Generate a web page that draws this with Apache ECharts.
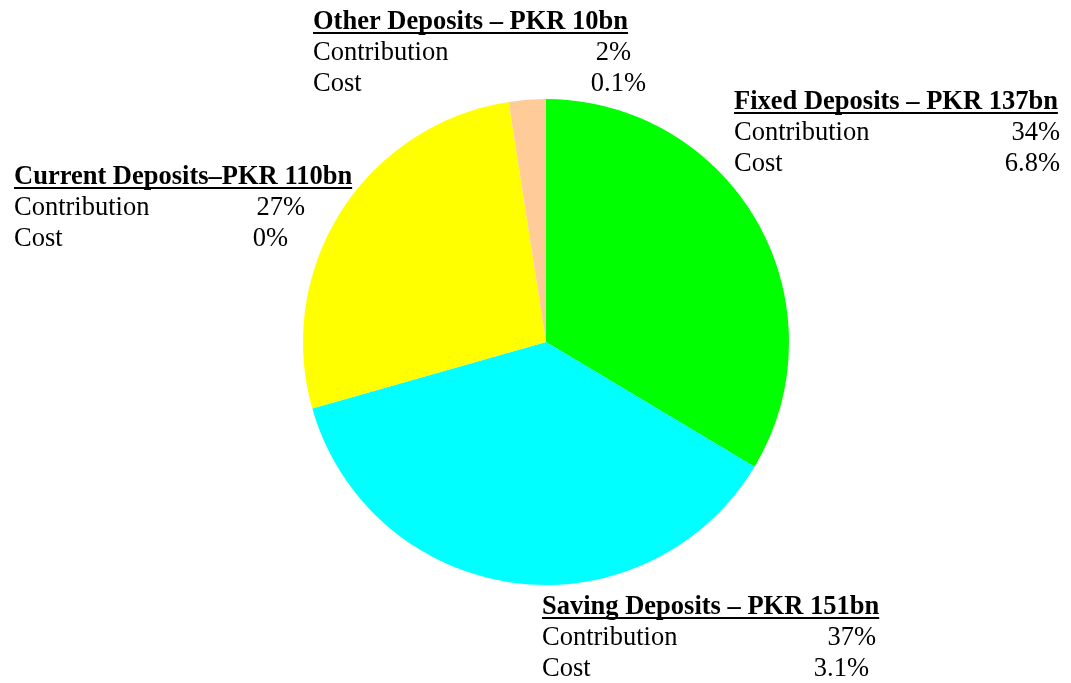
<!DOCTYPE html>
<html>
<head>
<meta charset="utf-8">
<script src="https://cdn.jsdelivr.net/npm/echarts@6/dist/echarts.min.js"></script>
<style>
  html, body { margin: 0; padding: 0; background: #fff; }
  #chart { width: 1071px; height: 683px; }
</style>
</head>
<body>
<div id="chart"></div>
<script>
// deposit mix data
var categories = ['Fixed Deposits', 'Saving Deposits', 'Current Deposits', 'Other Deposits'];
var amounts = [137, 151, 110, 10];             // PKR bn
var separators = [' – ', ' – ', '–', ' – '];
var contribution = ['34%', '37%', '27%', '2%'];
var cost = ['6.8%', '3.1%', '0%', '0.1%'];
var colors = ['#00FF00', '#00FFFF', '#FFFF00', '#FFCC99'];

// where each label block sits: left x, title baseline, right edge of the two value cells
var labelPos = [
    { x: 734, base: 109, right: [1060, 1060] },
    { x: 542, base: 614, right: [876, 869] },
    { x: 14,  base: 184, right: [305, 288] },
    { x: 313, base: 29,  right: [631, 646] }
];

var FONT = '"Liberation Serif", "Times New Roman", serif';
var SIZE = 26.5;
var ROW = 31;

var ctx = document.createElement('canvas').getContext('2d');
function textWidth(str, bold) {
    ctx.font = (bold ? 'bold ' : '') + SIZE + 'px ' + FONT;
    return ctx.measureText(str).width;
}

var chart = echarts.init(document.getElementById('chart'));

var pieData = categories.map(function (c, i) {
    return { name: c, value: amounts[i], itemStyle: { color: colors[i] } };
});

var graphics = [];
categories.forEach(function (c, i) {
    var p = labelPos[i];
    var title = c + separators[i] + 'PKR ' + amounts[i] + 'bn';
    var mid = -7; // baseline -> middle offset
    graphics.push({
        type: 'text', x: p.x, y: p.base + mid,
        style: { text: title, font: 'bold ' + SIZE + 'px ' + FONT, fill: '#000', verticalAlign: 'middle', align: 'left' }
    });
    graphics.push({
        type: 'rect',
        shape: { x: p.x, y: p.base + 3, width: textWidth(title, true), height: 2 },
        style: { fill: '#000' }
    });
    var rows = [['Contribution', contribution[i]], ['Cost', cost[i]]];
    rows.forEach(function (r, k) {
        var yy = p.base + ROW * (k + 1) + mid;
        graphics.push({
            type: 'text', x: p.x, y: yy,
            style: { text: r[0], font: SIZE + 'px ' + FONT, fill: '#000', verticalAlign: 'middle', align: 'left' }
        });
        graphics.push({
            type: 'text', x: p.right[k], y: yy,
            style: { text: r[1], font: SIZE + 'px ' + FONT, fill: '#000', verticalAlign: 'middle', align: 'right' }
        });
    });
});

var option = {
    animation: false,
    backgroundColor: '#fff',
    series: [{
        type: 'pie',
        center: [546, 342],
        radius: 243,
        startAngle: 90,
        clockwise: true,
        silent: true,
        label: { show: false },
        labelLine: { show: false },
        emphasis: { disabled: true },
        itemStyle: { borderWidth: 0 },
        data: pieData
    }],
    graphic: graphics
};
chart.setOption(option);
</script>
</body>
</html>
